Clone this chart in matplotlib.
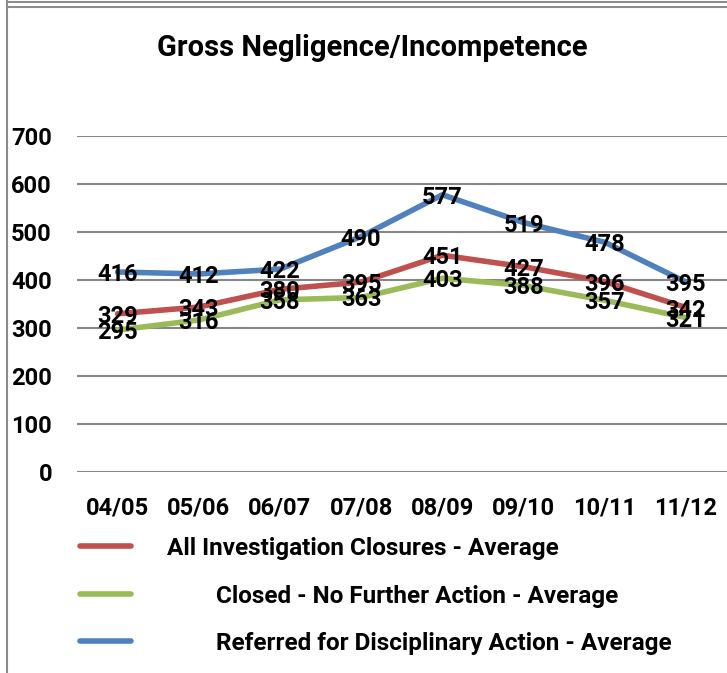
import matplotlib.pyplot as plt
from matplotlib.lines import Line2D

# data
years = ['04/05', '05/06', '06/07', '07/08', '08/09', '09/10', '10/11', '11/12']
all_closures = [329, 343, 380, 395, 451, 427, 396, 342]
closed_nfa = [295, 316, 358, 363, 403, 388, 357, 321]
referred = [416, 412, 422, 490, 577, 519, 478, 395]

series_names = ['All Investigation Closures - Average',
                'Closed - No Further Action - Average',
                'Referred for Disciplinary Action - Average']
colors = ['#C0504D', '#9BBB59', '#4F81BD']

plt.rcParams['font.family'] = ['Roboto', 'DejaVu Sans']
plt.rcParams['font.weight'] = 'bold'

W, H = 727, 673
fig = plt.figure(figsize=(W / 100, H / 100), dpi=100)

# outer frame lines
grey = '#8C8C8C'
fig.add_artist(Line2D([7 / W, 1], [1 - 2 / H, 1 - 2 / H], color=grey, lw=1.5))
fig.add_artist(Line2D([7 / W, 1], [1 - 7 / H, 1 - 7 / H], color=grey, lw=1.5))
fig.add_artist(Line2D([7 / W, 7 / W], [0, 1], color=grey, lw=1.5))

ax = fig.add_axes([77 / W, 1 - 471.7 / H, 650 / W, 336 / H])
x = list(range(len(years)))

for vals, c in zip([all_closures, closed_nfa, referred], colors):
    ax.plot(x, vals, color=c, lw=4, solid_capstyle='round', zorder=3)

for vals in [all_closures, closed_nfa, referred]:
    for i, v in zip(x, vals):
        ax.text(i, v, str(v), ha='center', va='center_baseline', fontsize=17,
                fontweight='bold', zorder=5)

ax.set_ylim(0, 700)
ax.set_xlim(-0.5, 7.505)
ax.set_yticks(range(0, 701, 100))
ax.set_xticks(x)
ax.set_xticklabels(years)
ax.tick_params(length=0, labelsize=17)
ax.tick_params(axis='y', pad=18)
ax.tick_params(axis='x', pad=18)
for lab in ax.get_xticklabels() + ax.get_yticklabels():
    lab.set_fontweight('bold')
ax.grid(axis='y', color='#868686', lw=1.5)
ax.set_axisbelow(True)
for s in ax.spines.values():
    s.set_visible(False)

fig.text(372 / W, 1 - 48 / H, 'Gross Negligence/Incompetence', ha='center', va='center',
         fontsize=21, fontweight='bold')

# legend
leg_y = [546, 594, 641]
leg_x = [167, 216, 216]
for name, c, yy, xx in zip(series_names, colors, leg_y, leg_x):
    fig.add_artist(Line2D([80 / W, 131 / W], [1 - yy / H, 1 - yy / H], color=c, lw=4,
                          solid_capstyle='round'))
    fig.text(xx / W, 1 - yy / H, name, ha='left', va='center_baseline', fontsize=17.5,
             fontweight='bold')

fig.savefig('out.png', dpi=100)
